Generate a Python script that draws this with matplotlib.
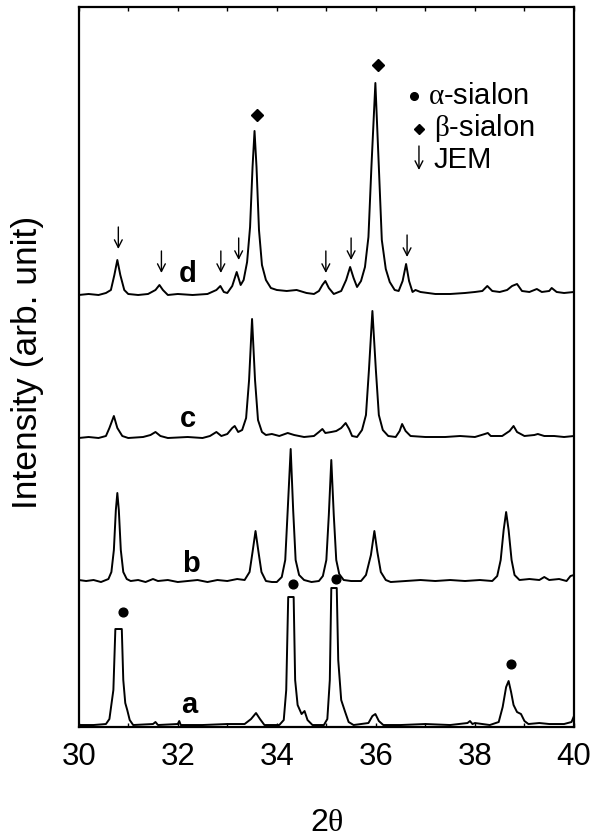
import numpy as np
import matplotlib.pyplot as plt
from matplotlib.ticker import MultipleLocator

plt.rcParams['font.family'] = ['Liberation Sans', 'DejaVu Sans']
plt.rcParams['mathtext.fontset'] = 'custom'
plt.rcParams['mathtext.rm'] = 'Liberation Serif'
plt.rcParams['mathtext.it'] = 'Liberation Serif:italic'

# XRD traces (2theta, intensity in arb. units, already offset)
a_x = [30.00, 30.30, 30.55, 30.62, 30.70, 30.74, 30.87, 30.90, 30.94, 30.98, 31.03, 31.10,
       31.50, 31.55, 31.60, 32.00, 32.03, 32.06, 32.50, 33.00, 33.35, 33.48, 33.58, 33.66,
       33.75, 34.05, 34.14, 34.19, 34.23, 34.34, 34.37, 34.42, 34.50, 34.56, 34.62, 34.72,
       34.95, 35.02, 35.07, 35.10, 35.21, 35.24, 35.30, 35.38, 35.45, 35.55, 35.85, 35.93,
       35.99, 36.06, 36.15, 36.50, 37.00, 37.50, 37.85, 37.90, 37.95, 38.00, 38.30, 38.48,
       38.56, 38.63, 38.68, 38.73, 38.78, 38.85, 38.93, 39.00, 39.08, 39.30, 39.50, 39.80,
       39.95, 40.00]
a_y = [2, 2, 3, 8, 37, 98, 98, 47, 24, 17, 7, 2,
       3, 5, 2, 3, 6, 2, 2, 3, 3, 8, 14, 8,
       2, 2, 7, 37, 130, 130, 47, 22, 13, 16, 7, 2,
       2, 8, 47, 139, 139, 67, 27, 15, 5, 2, 4, 11,
       13, 6, 2, 2, 3, 2, 4, 6, 3, 4, 2, 5,
       20, 40, 46, 35, 22, 15, 13, 6, 3, 4, 3, 3,
       5, 11]

b_x = [30.00, 30.15, 30.30, 30.45, 30.60, 30.66, 30.71, 30.75, 30.78, 30.81, 30.85, 30.90,
       30.97, 31.05, 31.20, 31.35, 31.50, 31.60, 31.80, 32.00, 32.20, 32.40, 32.60, 32.80,
       33.00, 33.20, 33.35, 33.45, 33.51, 33.57, 33.63, 33.69, 33.78, 33.90, 34.00, 34.10,
       34.17, 34.22, 34.28, 34.33, 34.38, 34.45, 34.55, 34.70, 34.85, 34.93, 35.00, 35.05,
       35.10, 35.15, 35.20, 35.26, 35.35, 35.50, 35.70, 35.80, 35.90, 35.97, 36.03, 36.10,
       36.20, 36.30, 36.60, 36.90, 37.20, 37.50, 37.80, 38.10, 38.35, 38.45, 38.52, 38.58,
       38.63, 38.68, 38.74, 38.80, 38.90, 39.10, 39.30, 39.40, 39.50, 39.70, 39.85, 39.93,
       40.00]
b_y = [147, 146, 147, 145, 148, 155, 177, 217, 234, 217, 177, 155,
       148, 146, 147, 145, 148, 146, 147, 145, 146, 147, 145, 147,
       146, 148, 147, 155, 175, 196, 175, 155, 146, 145, 145, 150,
       167, 217, 278, 217, 167, 152, 147, 145, 146, 151, 167, 212,
       267, 212, 167, 153, 147, 146, 146, 152, 172, 196, 175, 155,
       147, 145, 146, 147, 146, 147, 146, 147, 146, 151, 167, 197,
       215, 197, 167, 152, 147, 148, 147, 150, 147, 148, 146, 151,
       152]

c_x = [30.00, 30.20, 30.40, 30.55, 30.62, 30.71, 30.78, 30.88, 31.00, 31.30, 31.45, 31.55,
       31.65, 31.80, 32.20, 32.50, 32.65, 32.78, 32.88, 33.00, 33.10, 33.15, 33.22, 33.30,
       33.38, 33.44, 33.50, 33.56, 33.62, 33.70, 33.78, 33.90, 34.05, 34.22, 34.35, 34.55,
       34.75, 34.85, 34.92, 34.98, 35.10, 35.20, 35.30, 35.39, 35.46, 35.52, 35.62, 35.72,
       35.80, 35.86, 35.93, 36.00, 36.06, 36.14, 36.25, 36.40, 36.48, 36.53, 36.60, 36.70,
       37.00, 37.40, 37.70, 38.00, 38.20, 38.26, 38.32, 38.55, 38.70, 38.78, 38.85, 39.00,
       39.20, 39.27, 39.40, 39.60, 39.80, 40.00]
c_y = [289, 290, 289, 291, 299, 311, 299, 291, 289, 290, 292, 295,
       291, 289, 290, 289, 291, 295, 291, 293, 299, 301, 295, 297,
       309, 347, 408, 347, 307, 295, 292, 293, 291, 294, 292, 290,
       291, 295, 298, 294, 295, 296, 299, 304, 298, 291, 290, 297,
       312, 357, 416, 357, 312, 297, 291, 290, 296, 303, 296, 291,
       290, 290, 291, 290, 293, 294, 291, 291, 296, 301, 295, 291,
       292, 293, 291, 291, 290, 291]

d_x = [30.00, 30.20, 30.40, 30.55, 30.65, 30.72, 30.78, 30.84, 30.92, 31.00, 31.20, 31.40,
       31.55, 31.63, 31.70, 31.80, 32.00, 32.30, 32.60, 32.78, 32.86, 32.93, 33.00, 33.10,
       33.19, 33.27, 33.33, 33.40, 33.46, 33.51, 33.55, 33.59, 33.64, 33.70, 33.78, 33.88,
       34.00, 34.20, 34.40, 34.60, 34.75, 34.85, 34.92, 34.98, 35.05, 35.15, 35.30, 35.40,
       35.48, 35.55, 35.62, 35.70, 35.78, 35.85, 35.91, 35.99, 36.06, 36.12, 36.20, 36.28,
       36.38, 36.46, 36.54, 36.61, 36.67, 36.74, 36.80, 36.90, 37.20, 37.50, 37.80, 38.00,
       38.15, 38.25, 38.35, 38.50, 38.65, 38.75, 38.85, 38.95, 39.10, 39.25, 39.35, 39.50,
       39.55, 39.65, 39.80, 40.00]
d_y = [432, 433, 432, 434, 437, 452, 467, 452, 437, 433, 432, 433,
       437, 442, 437, 432, 433, 432, 433, 437, 441, 435, 434, 441,
       455, 442, 447, 465, 500, 560, 596, 560, 497, 462, 447, 439,
       437, 436, 437, 434, 433, 436, 442, 446, 439, 433, 436, 447,
       460, 449, 440, 446, 460, 490, 560, 644, 560, 487, 458, 445,
       437, 436, 446, 463, 446, 435, 437, 435, 433, 433, 434, 435,
       436, 441, 436, 435, 437, 441, 443, 436, 435, 438, 435, 436,
       439, 435, 434, 435]

# phase markers
alpha_x = [30.89, 34.33, 35.20, 38.73]
alpha_y = [115, 143, 148, 63]
beta_x = [33.59, 36.04]
beta_y = [612, 662]
jem_x = [30.80, 31.67, 32.87, 33.23, 34.99, 35.50, 36.63]
jem_y = [478, 454, 454, 467, 454, 467, 470]

trace_labels = ['a', 'b', 'c', 'd']
label_x = [32.23, 32.26, 32.20, 32.20]
label_y = [14, 155, 300, 445]

fig = plt.figure(figsize=(5.94, 8.4), dpi=100)
ax = fig.add_axes([0.1325, 0.1345, 0.8338, 0.8572])

for xs, ys in [(a_x, a_y), (b_x, b_y), (c_x, c_y), (d_x, d_y)]:
    ax.plot(xs, ys, color='black', lw=1.4)

ax.plot(alpha_x, alpha_y, 'o', color='black', ms=6.3)
ax.plot(beta_x, beta_y, 'D', color='black', ms=6.5)

arrow_len = 22
for x, y in zip(jem_x, jem_y):
    ax.annotate('', xy=(x, y), xytext=(x, y + arrow_len),
                arrowprops=dict(arrowstyle='->,head_length=0.55,head_width=0.28',
                                lw=1.0, color='black', shrinkA=0, shrinkB=0))

for lab, x, y in zip(trace_labels, label_x, label_y):
    ax.text(x, y, lab, fontsize=21, fontweight='bold', ha='center', va='baseline')

# legend drawn by hand
ax.plot([36.77], [631], 'o', color='black', ms=5.5)
ax.plot([36.87], [598], 'D', color='black', ms=5.5)
ax.annotate('', xy=(36.87, 557), xytext=(36.87, 581),
            arrowprops=dict(arrowstyle='->,head_length=0.55,head_width=0.28',
                            lw=1.0, color='black', shrinkA=0, shrinkB=0))
ax.text(37.06, 623, r'$\mathrm{\alpha}$-sialon', fontsize=21, va='baseline')
ax.text(37.17, 591, r'$\mathrm{\beta}$-sialon', fontsize=21, va='baseline')
ax.text(37.17, 559, 'JEM', fontsize=21, va='baseline')

ax.set_xlim(30, 40)
ax.set_ylim(0, 720)
ax.xaxis.set_major_locator(MultipleLocator(2))
ax.xaxis.set_minor_locator(MultipleLocator(1))
ax.tick_params(axis='x', which='both', direction='in', top=True, length=3, width=1,
               labelsize=22.5, pad=11)
ax.set_yticks([])
for s in ax.spines.values():
    s.set_linewidth(1.6)

fig.text(0.047, 0.569, 'Intensity (arb. unit)', fontsize=25.5, rotation=90,
         ha='center', va='center')
fig.text(0.55, 0.011, r'2$\mathrm{\theta}$', fontsize=23, ha='center', va='baseline')

plt.savefig('out.png', dpi=100)
